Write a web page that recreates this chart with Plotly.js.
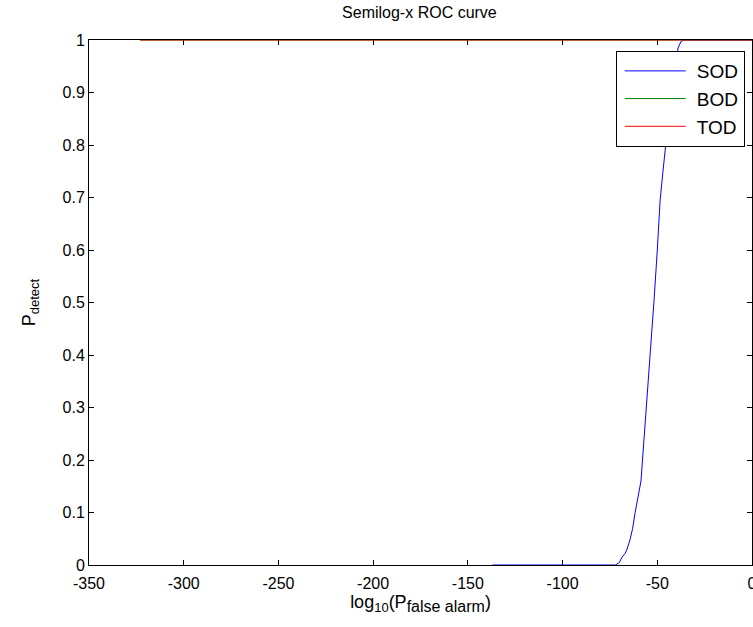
<!DOCTYPE html>
<html>
<head>
<meta charset="utf-8">
<script src="https://cdn.plot.ly/plotly-3.0.1.min.js"></script>
<style>html,body{margin:0;padding:0;background:#fff;}#chart{width:753px;height:627px;}</style>
</head>
<body>
<div id="chart"></div>
<script>
// SOD curve: log10(Pfa) vs Pdetect
const sodX = [-137, -120, -100, -80, -72, -70, -68.6, -67, -66, -64.4, -63, -61.7, -60, -58.6, -57, -55, -53.5, -51.7, -50, -48.5, -47, -45.6, -43.5, -41, -39, -37.5, -36, -20, 0];
const sodY = [0, 0, 0, 0, 0, 0.005, 0.015, 0.022, 0.03, 0.048, 0.07, 0.1, 0.13, 0.16, 0.24, 0.333, 0.42, 0.505, 0.6, 0.695, 0.75, 0.804, 0.87, 0.94, 0.985, 0.997, 1, 1, 1];
// BOD curve
const bodX = [-323, -200, -100, 0];
const bodY = [1, 1, 1, 1];
// TOD curve
const todX = [-323, -200, -100, 0];
const todY = [1, 1, 1, 1];

const xTicks = [-350, -300, -250, -200, -150, -100, -50, 0];
const yTicks = [0, 0.1, 0.2, 0.3, 0.4, 0.5, 0.6, 0.7, 0.8, 0.9, 1];
const yTickText = ['0', '0.1', '0.2', '0.3', '0.4', '0.5', '0.6', '0.7', '0.8', '0.9', '1'];

const traces = [
  {x: sodX, y: sodY, name: 'SOD', mode: 'lines', cliponaxis: false, line: {color: '#0000FF', width: 1}},
  {x: bodX, y: bodY, name: 'BOD', mode: 'lines', cliponaxis: false, line: {color: '#008000', width: 1}},
  {x: todX, y: todY, name: 'TOD', mode: 'lines', cliponaxis: false, line: {color: '#FF0000', width: 1}}
];

const axisCommon = {
  showgrid: false, zeroline: false, showline: true, linecolor: '#000', linewidth: 1,
  mirror: 'ticks', ticks: 'inside', ticklen: 5, tickcolor: '#000', tickwidth: 1,
  ticklabeloverflow: 'allow', layer: 'below traces',
  tickfont: {family: 'Liberation Sans, Arial, sans-serif', size: 16, color: '#000'}
};

const layout = {
  width: 753, height: 627,
  margin: {l: 89, r: 1, t: 40, b: 62},
  paper_bgcolor: '#fff', plot_bgcolor: '#fff',
  font: {family: 'Liberation Sans, Arial, sans-serif', color: '#000'},
  title: {text: 'Semilog-x ROC curve', font: {size: 16, color: '#000'}, x: 0.557, xanchor: 'center', y: 0.981, yanchor: 'middle'},
  xaxis: Object.assign({}, axisCommon, {
    range: [-350, 0], tickvals: xTicks, ticktext: xTicks.map(String), ticklabelstandoff: 4,
    title: {text: 'log<sub><span style="font-size:13px">10</span></sub>(P<sub><span style="font-size:16px">false alarm</span></sub>)', font: {size: 18}, standoff: 4}
  }),
  yaxis: Object.assign({}, axisCommon, {
    range: [0, 1], tickvals: yTicks, ticktext: yTickText,
    title: {text: 'P<sub><span style="font-size:13px">detect</span></sub>', font: {size: 18}, standoff: 22}
  }),
  showlegend: true,
  legend: {
    x: 0.989, xanchor: 'right', y: 0.979, yanchor: 'top',
    bgcolor: '#fff', bordercolor: '#000', borderwidth: 1,
    font: {size: 19, color: '#000'}, tracegroupgap: 0, itemwidth: 70
  }
};

Plotly.newPlot('chart', traces, layout, {displayModeBar: false, staticPlot: true}).then(function (gd) {
  gd.querySelectorAll('.legend .legendlines path').forEach(function (p) {
    p.setAttribute('d', 'M8,0h61');
  });
});
</script>
</body>
</html>
